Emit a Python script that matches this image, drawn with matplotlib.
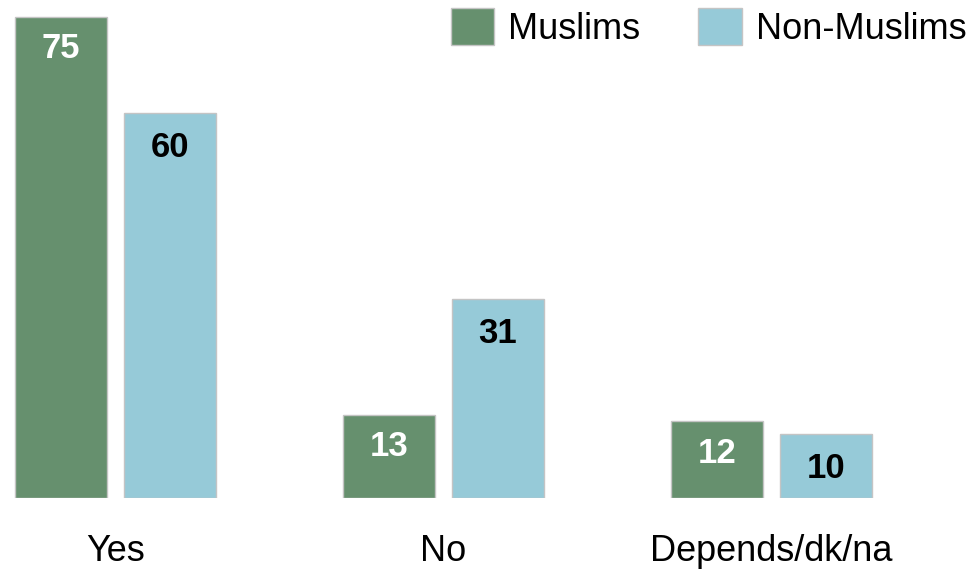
import numpy as np
import matplotlib
matplotlib.use("Agg")
from matplotlib import pyplot as plt

categories = ["Yes", "No", "Depends/dk/na"]
muslims = [75, 13, 12]
non_muslims = [60, 31, 10]
series_names = ["Muslims", "Non-Muslims"]

green = "#66906e"
blue = "#96cad8"
edge = "#c4c4c4"

plt.rcParams['font.family'] = ['Liberation Sans', 'DejaVu Sans']

fig = plt.figure(figsize=(9.73, 5.71), dpi=100)
ax = fig.add_axes([0, 0.1278, 1, 0.8722])

x = np.arange(len(categories))
w = 0.2805
off = 0.166

b1 = ax.bar(x - off, muslims, w, color=green, edgecolor=edge, linewidth=1, label=series_names[0])
b2 = ax.bar(x + off, non_muslims, w, color=blue, edgecolor=edge, linewidth=1, label=series_names[1])

# value labels inside the bars
for rect, v in zip(b1, muslims):
    ax.annotate(str(v), (rect.get_x() + rect.get_width() / 2, v), xytext=(0, -23),
                textcoords="offset points", ha="center", va="center",
                fontsize=25, fontweight="bold", color="white")
for rect, v in zip(b2, non_muslims):
    ax.annotate(str(v), (rect.get_x() + rect.get_width() / 2, v), xytext=(0, -25),
                textcoords="offset points", ha="center", va="center",
                fontsize=25, fontweight="bold", color="black")

ax.set_xlim(-0.352, 2.614)
ax.set_ylim(0, 77.65)
ax.set_xticks(x)
ax.set_xticklabels(categories, fontsize=26)
ax.tick_params(axis="x", length=0, pad=26)
ax.set_yticks([])
for s in ax.spines.values():
    s.set_visible(False)

leg = ax.legend(loc="upper right", bbox_to_anchor=(1.012, 1.02), ncol=2, frameon=False,
                fontsize=26, handlelength=1.2, handleheight=1.2, handletextpad=0.4,
                columnspacing=1.6, borderaxespad=0.1)

fig.savefig("out.png", dpi=100)
